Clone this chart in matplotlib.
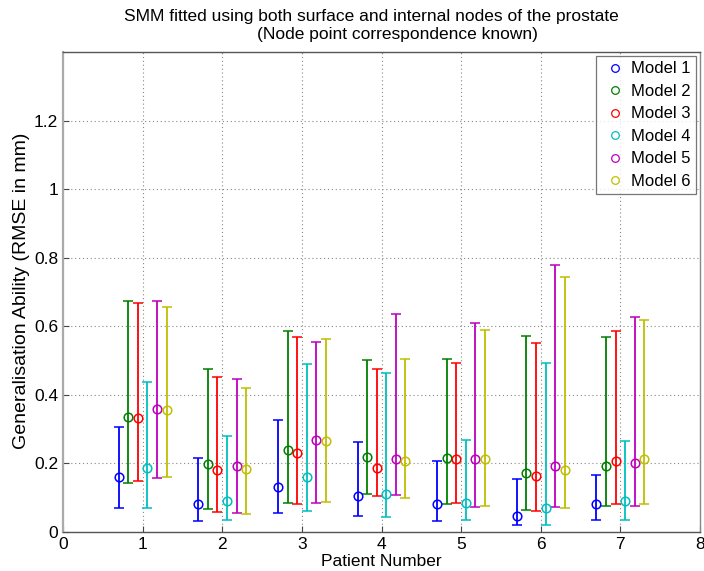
import matplotlib
matplotlib.use("Agg")
import matplotlib.pyplot as plt
import numpy as np

plt.rcParams["font.family"] = ["Liberation Sans", "DejaVu Sans"]

patients = [1, 2, 3, 4, 5, 6, 7]
models = ["Model 1", "Model 2", "Model 3", "Model 4", "Model 5", "Model 6"]
colors = ["#0000ff", "#008000", "#ff0000", "#00bfbf", "#bf00bf", "#bfbf00"]
offsets = [-0.30, -0.18, -0.06, 0.06, 0.18, 0.30]

# Mean RMSE per model (rows) for each patient (columns)
mean_rmse = [
    [0.161, 0.082, 0.131, 0.104, 0.080, 0.047, 0.080],
    [0.335, 0.198, 0.239, 0.218, 0.214, 0.172, 0.192],
    [0.333, 0.179, 0.230, 0.187, 0.213, 0.162, 0.206],
    [0.185, 0.090, 0.159, 0.111, 0.084, 0.068, 0.089],
    [0.358, 0.191, 0.267, 0.212, 0.211, 0.193, 0.202],
    [0.355, 0.183, 0.264, 0.206, 0.211, 0.180, 0.213],
]
# Upper end of each error bar
max_rmse = [
    [0.307, 0.216, 0.327, 0.262, 0.206, 0.153, 0.165],
    [0.674, 0.475, 0.586, 0.501, 0.505, 0.572, 0.568],
    [0.669, 0.453, 0.569, 0.474, 0.493, 0.551, 0.585],
    [0.438, 0.280, 0.489, 0.462, 0.269, 0.493, 0.264],
    [0.675, 0.447, 0.554, 0.635, 0.610, 0.780, 0.626],
    [0.656, 0.421, 0.562, 0.504, 0.590, 0.743, 0.618],
]
# Lower end of each error bar
min_rmse = [
    [0.068, 0.030, 0.054, 0.047, 0.032, 0.021, 0.034],
    [0.143, 0.066, 0.085, 0.111, 0.082, 0.062, 0.074],
    [0.148, 0.057, 0.081, 0.105, 0.084, 0.060, 0.080],
    [0.068, 0.033, 0.059, 0.043, 0.035, 0.020, 0.033],
    [0.158, 0.055, 0.083, 0.107, 0.073, 0.073, 0.074],
    [0.159, 0.051, 0.088, 0.097, 0.074, 0.069, 0.080],
]

W, H = 704, 571
fig = plt.figure(figsize=(W / 100, H / 100), dpi=100)
ax = fig.add_axes([63 / W, 1 - 531.7 / H, (700 - 63) / W, (531.7 - 52.3) / H])

handles = []
for i, name in enumerate(models):
    x = np.array(patients) + offsets[i]
    y = np.array(mean_rmse[i])
    lo = y - np.array(min_rmse[i])
    hi = np.array(max_rmse[i]) - y
    ax.errorbar(x, y, yerr=[lo, hi], fmt="o", color=colors[i],
                mfc="none", mec=colors[i], ms=6.2, mew=1.1,
                elinewidth=1.3, capsize=3.7, capthick=1.3)
    h, = ax.plot([], [], "o", mfc="none", mec=colors[i], ms=5.5, mew=0.9,
                 linestyle="none", label=name)
    handles.append(h)

ax.set_xlim(0, 8)
ax.set_ylim(0, 1.4)
ax.set_xticks(range(0, 9))
ax.set_yticks([0, 0.2, 0.4, 0.6, 0.8, 1.0, 1.2])
ax.set_yticklabels(["0", "0.2", "0.4", "0.6", "0.8", "1", "1.2"])
ax.grid(True, linestyle=(0, (1, 2.5)), color="#888888", linewidth=0.8)
ax.tick_params(direction="in", length=4, labelsize=12.5, color="#444444")
ax.tick_params(axis="x", pad=4)

for side in ["top", "bottom"]:
    ax.spines[side].set_color("#555555")
    ax.spines[side].set_linewidth(1.0)
ax.spines["left"].set_color("#aaaaaa")
ax.spines["left"].set_linewidth(1.6)
ax.spines["right"].set_color("#888888")
ax.spines["right"].set_linewidth(1.0)

ax.set_xlabel("Patient Number", fontsize=12.5, labelpad=1)
fig.text(22 / W, 1 - 291 / H, "Generalisation Ability (RMSE in mm)",
         rotation=90, ha="center", va="center", fontsize=14)

fig.text(371.5 / W, 1 - 20.5 / H,
         "SMM fitted using both surface and internal nodes of the prostate",
         ha="center", va="baseline", fontsize=12.5)
fig.text(397 / W, 1 - 38.5 / H, "(Node point correspondence known)",
         ha="center", va="baseline", fontsize=12.5)

leg = ax.legend(handles=handles, loc="upper right", fontsize=12,
                frameon=True, fancybox=False, borderaxespad=0.25,
                handlelength=1.65, handletextpad=0.15, labelspacing=0.45,
                borderpad=0.3)
leg.get_frame().set_edgecolor("#555555")
leg.get_frame().set_linewidth(0.9)

fig.savefig("out.png", dpi=100)
